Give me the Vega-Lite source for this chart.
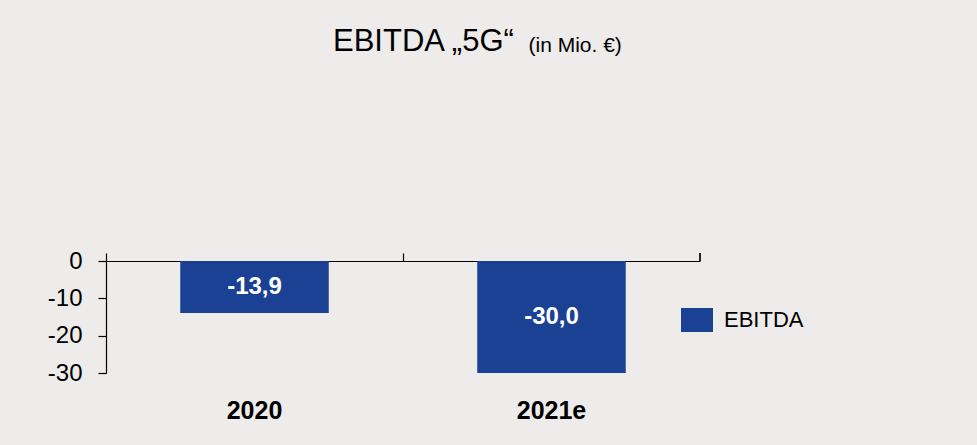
{
  "$schema": "https://vega.github.io/schema/vega-lite/v6.json",
  "description": "EBITDA 5G bar chart, 2020 and 2021e, in Mio. EUR",
  "autosize": {"type": "none"},
  "width": 594,
  "height": 112,
  "padding": {"left": 106, "top": 261, "right": 277, "bottom": 72},
  "background": "#EDECEA",
  "title": {
    "text": "EBITDA „5G“",
    "anchor": "start",
    "frame": "group",
    "dx": 227,
    "offset": -48,
    "baseline": "alphabetic",
    "font": "Liberation Sans",
    "fontSize": 31,
    "fontWeight": "normal",
    "color": "#000000"
  },
  "data": {
    "values": [
      {"year": "2020", "ebitda": -13.9},
      {"year": "2021e", "ebitda": -30.0}
    ]
  },
  "layer": [
    {
      "mark": {"type": "bar", "color": "#1A4194"},
      "encoding": {
        "x": {
          "field": "year",
          "type": "nominal",
          "sort": null,
          "scale": {"paddingInner": 0.5, "paddingOuter": 0.25},
          "axis": {
            "orient": "bottom",
            "title": null,
            "domain": false,
            "ticks": false,
            "labelAngle": 0,
            "labelFont": "Liberation Sans",
            "labelFontSize": 25,
            "labelFontWeight": "bold",
            "labelColor": "#000000",
            "labelPadding": 25
          }
        },
        "y": {
          "field": "ebitda",
          "type": "quantitative",
          "title": "(in Mio. €)",
          "scale": {"domain": [-30, 0], "nice": false},
          "axis": {
            "orient": "left",
            "titleAngle": 0,
            "titleAlign": "left",
            "titleBaseline": "alphabetic",
            "titleX": 422,
            "titleY": -210,
            "titleFont": "Liberation Sans",
            "titleFontSize": 21,
            "titleFontWeight": "normal",
            "titleColor": "#000000",
            "values": [0, -10, -20, -30],
            "format": "d",
            "labelFont": "Liberation Sans",
            "labelFontSize": 24,
            "labelColor": "#000000",
            "labelPadding": 16,
            "tickSize": 8,
            "tickColor": "#000000",
            "tickWidth": 1.2,
            "domainColor": "#000000",
            "domainWidth": 1.2
          }
        },
        "color": {
          "datum": "EBITDA",
          "type": "nominal",
          "scale": {"range": ["#1A4194"]},
          "legend": {
            "title": null,
            "orient": "none",
            "legendX": 575,
            "legendY": 43,
            "padding": 0,
            "symbolType": "M-1,-0.75H1V0.75H-1Z",
            "symbolSize": 1024,
            "symbolStrokeWidth": 0,
            "symbolOpacity": 1,
            "labelOffset": 11,
            "labelFont": "Liberation Sans",
            "labelFontSize": 22,
            "labelColor": "#000000"
          }
        }
      }
    },
    {
      "mark": {
        "type": "text",
        "color": "#FFFFFF",
        "font": "Liberation Sans",
        "fontSize": 24,
        "fontWeight": "bold",
        "baseline": "middle"
      },
      "encoding": {
        "x": {"field": "year", "type": "nominal", "sort": null, "axis": null},
        "y": {
          "field": "ebitda",
          "type": "quantitative",
          "title": "(in Mio. €)",
          "stack": "zero",
          "bandPosition": 0.5,
          "axis": {
            "orient": "left",
            "titleAngle": 0,
            "titleAlign": "left",
            "titleBaseline": "alphabetic",
            "titleX": 422,
            "titleY": -210,
            "titleFont": "Liberation Sans",
            "titleFontSize": 21,
            "titleFontWeight": "normal",
            "titleColor": "#000000",
            "values": [0, -10, -20, -30],
            "format": "d",
            "labelFont": "Liberation Sans",
            "labelFontSize": 24,
            "labelColor": "#000000",
            "labelPadding": 16,
            "tickSize": 8,
            "tickColor": "#000000",
            "tickWidth": 1.2,
            "domainColor": "#000000",
            "domainWidth": 1.2
          }
        },
        "text": {"field": "ebitda", "type": "quantitative", "format": ".1f"}
      }
    },
    {
      "mark": {"type": "rule", "color": "#000000", "strokeWidth": 1.2},
      "encoding": {
        "x": {
          "datum": "2021e",
          "type": "nominal",
          "bandPosition": 1.5,
          "axis": {
            "orient": "top",
            "title": null,
            "labels": false,
            "domain": true,
            "domainColor": "#000000",
            "domainWidth": 1.2,
            "ticks": true,
            "tickColor": "#000000",
            "tickWidth": 1.2,
            "tickSize": 8,
            "bandPosition": -0.5
          }
        },
        "y": {
          "datum": 0,
          "type": "quantitative",
          "title": "(in Mio. €)",
          "axis": {
            "orient": "left",
            "titleAngle": 0,
            "titleAlign": "left",
            "titleBaseline": "alphabetic",
            "titleX": 422,
            "titleY": -210,
            "titleFont": "Liberation Sans",
            "titleFontSize": 21,
            "titleFontWeight": "normal",
            "titleColor": "#000000",
            "values": [0, -10, -20, -30],
            "format": "d",
            "labelFont": "Liberation Sans",
            "labelFontSize": 24,
            "labelColor": "#000000",
            "labelPadding": 16,
            "tickSize": 8,
            "tickColor": "#000000",
            "tickWidth": 1.2,
            "domainColor": "#000000",
            "domainWidth": 1.2
          }
        },
        "y2": {"datum": 2.14}
      }
    }
  ],
  "resolve": {"axis": {"x": "independent"}},
  "config": {
    "locale": {
      "number": {
        "decimal": ",",
        "thousands": ".",
        "grouping": [3],
        "currency": ["", " €"],
        "minus": "-"
      }
    },
    "view": {"stroke": null},
    "axis": {"grid": false}
  }
}
